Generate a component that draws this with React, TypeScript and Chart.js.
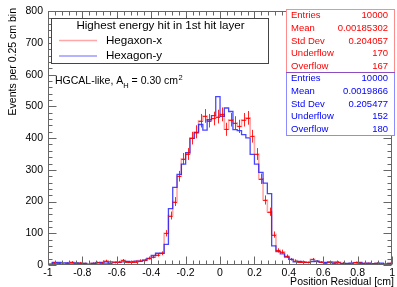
import React, { useEffect, useRef } from "react";
import { Chart, registerables } from "chart.js";
Chart.register(...registerables);

const FONT = "'Liberation Sans', Arial, Helvetica, sans-serif";

const binLow = -1;
const binWidth = 0.025;

// Hegaxon-x (red, with error bars)
const hexXCounts = [
  2, 7, 5, 3, 6, 9, 6, 7, 5, 4, 6, 8, 7, 13, 6, 8, 10, 15, 9, 10, 11, 14,
  16, 22, 26, 32, 37, 100, 156, 200, 280, 335, 350, 400, 420, 455, 470, 455, 462, 468,
  475, 428, 458, 448, 437, 458, 464, 406, 350, 272, 205, 168, 96, 46, 42, 28, 18,
  14, 10, 9, 8, 18, 12, 9, 7, 8, 6, 9, 7, 4, 5, 8, 6, 5, 5, 4, 6, 4, 3, 5,
];
// Hexagon-y (blue)
const hexYCounts = [
  3, 8, 8, 7, 7, 6, 7, 6, 5, 2, 5, 7, 8, 6, 10, 9, 8, 10, 11, 9, 12, 12,
  15, 20, 30, 37, 37, 65, 178, 245, 286, 318, 354, 399, 417, 443, 425, 458, 471, 531,
  469, 495, 484, 427, 424, 411, 401, 349, 318, 292, 258, 225, 60, 42, 35, 25, 18,
  10, 11, 9, 8, 11, 12, 9, 8, 10, 9, 7, 4, 5, 6, 7, 8, 5, 6, 4, 5, 6, 3, 5,
];

const xMin = -1;
const xMax = 1;
const xMajorStep = 0.2;
const xMinorStep = 0.04;
const yMin = 0;
const yMax = 800;
const yMajorStep = 100;
const yMinorStep = 20;

const xTitle = "Position Residual [cm]";
const yTitle = "Events per 0.25 cm bin";
const legendHeader = "Highest energy hit in 1st hit layer";
const seriesNames = ["Hegaxon-x", "Hexagon-y"];
const statsLabels = ["Entries", "Mean", "Std Dev", "Underflow", "Overflow"];
const statsHexX = ["10000", "0.00185302", "0.204057", "170", "167"];
const statsHexY = ["10000", "0.0019866", "0.205477", "152", "180"];

const RED_LIGHT = "rgba(255,0,0,0.35)";
const BLUE = "rgba(0,0,255,0.72)";
const BLUE_LIGHT = "rgba(0,0,255,0.4)";

function stepData(counts: number[]) {
  const pts = counts.map((c, i) => ({ x: binLow + i * binWidth, y: c }));
  pts.push({ x: binLow + counts.length * binWidth, y: counts[counts.length - 1] });
  return pts;
}

function fmt(v: number) {
  const r = Math.round(v * 10) / 10;
  return String(r === 0 ? 0 : r);
}

const errorBarsPlugin = {
  id: "errorBars",
  afterDatasetsDraw(chart: any) {
    const { ctx, chartArea } = chart;
    const xs = chart.scales.x;
    const ys = chart.scales.y;
    ctx.save();
    ctx.beginPath();
    ctx.rect(chartArea.left, chartArea.top, chartArea.right - chartArea.left, chartArea.bottom - chartArea.top);
    ctx.clip();
    ctx.strokeStyle = "rgba(255,0,0,0.85)";
    ctx.lineWidth = 1;
    hexXCounts.forEach((c, i) => {
      const lo = binLow + i * binWidth;
      const x0 = xs.getPixelForValue(lo);
      const x1 = xs.getPixelForValue(lo + binWidth);
      const xc = Math.round(xs.getPixelForValue(lo + binWidth / 2)) + 0.5;
      const y = Math.round(ys.getPixelForValue(c)) + 0.5;
      const e = Math.sqrt(c);
      ctx.beginPath();
      ctx.moveTo(x0, y);
      ctx.lineTo(x1, y);
      ctx.moveTo(xc, ys.getPixelForValue(c + e));
      ctx.lineTo(xc, ys.getPixelForValue(Math.max(0, c - e)));
      ctx.stroke();
    });
    ctx.restore();
  },
};

const decorPlugin = {
  id: "decor",
  afterDraw(chart: any) {
    const { ctx, chartArea } = chart;
    const xs = chart.scales.x;
    const ys = chart.scales.y;
    const L = Math.round(chartArea.left) + 0.5;
    const R = Math.round(chartArea.right) - 0.5;
    const T = Math.round(chartArea.top) + 0.5;
    const B = Math.round(chartArea.bottom) - 0.5;
    ctx.save();
    // frame
    ctx.strokeStyle = "#666";
    ctx.lineWidth = 1;
    ctx.strokeRect(L, T, R - L, B - T);
    // x ticks
    const nx = Math.round((xMax - xMin) / xMinorStep);
    for (let i = 0; i <= nx; i++) {
      const v = xMin + i * xMinorStep;
      const px = Math.round(xs.getPixelForValue(v)) + 0.5;
      const len = i % 5 === 0 ? 8 : 4;
      ctx.beginPath();
      ctx.moveTo(px, B);
      ctx.lineTo(px, B - len);
      ctx.moveTo(px, T);
      ctx.lineTo(px, T + len);
      ctx.stroke();
    }
    const ny = Math.round((yMax - yMin) / yMinorStep);
    for (let i = 0; i <= ny; i++) {
      const v = yMin + i * yMinorStep;
      const py = Math.round(ys.getPixelForValue(v)) + 0.5;
      const len = i % 5 === 0 ? 8 : 4;
      ctx.beginPath();
      ctx.moveTo(L, py);
      ctx.lineTo(L + len, py);
      ctx.moveTo(R, py);
      ctx.lineTo(R - len, py);
      ctx.stroke();
    }

    // axis titles
    ctx.fillStyle = "#000";
    ctx.font = `10.5px ${FONT}`;
    ctx.textAlign = "right";
    ctx.textBaseline = "middle";
    ctx.fillText(xTitle, 394, 282);
    ctx.save();
    ctx.translate(13, 8);
    ctx.rotate(-Math.PI / 2);
    ctx.fillText(yTitle, 0, 0);
    ctx.restore();

    // legend box
    ctx.fillStyle = "#fff";
    ctx.fillRect(51, 18, 217, 45);
    ctx.strokeStyle = "#444";
    ctx.strokeRect(51.5, 18.5, 217, 45);
    ctx.fillStyle = "#000";
    ctx.font = `11.6px ${FONT}`;
    ctx.textAlign = "center";
    ctx.fillText(legendHeader, 160.5, 25.5);
    ctx.textAlign = "left";
    const legendColors = [RED_LIGHT, BLUE_LIGHT];
    seriesNames.forEach((name, i) => {
      const y = 40.5 + i * 15.5;
      ctx.strokeStyle = legendColors[i];
      ctx.lineWidth = 1.5;
      ctx.beginPath();
      ctx.moveTo(59, y);
      ctx.lineTo(97, y);
      ctx.stroke();
      ctx.fillStyle = "#000";
      ctx.fillText(name, 106, y);
    });

    // annotation
    ctx.font = `10.5px ${FONT}`;
    ctx.textAlign = "left";
    let ax = 55;
    const ay = 81.5;
    const p1 = "HGCAL-like, A";
    ctx.fillText(p1, ax, ay);
    ax += ctx.measureText(p1).width;
    ctx.font = `7.5px ${FONT}`;
    ctx.fillText("H", ax, ay + 4);
    ax += ctx.measureText("H").width;
    ctx.font = `10.5px ${FONT}`;
    const p2 = " = 0.30 cm";
    ctx.fillText(p2, ax, ay);
    ax += ctx.measureText(p2).width;
    ctx.font = `7.5px ${FONT}`;
    ctx.fillText("2", ax + 0.5, ay - 4);

    // stats boxes
    const boxes = [
      { vals: statsHexX, color: "#ff0000", border: "rgba(255,0,0,0.45)", top: 9 },
      { vals: statsHexY, color: "#0000ff", border: "rgba(0,0,255,0.45)", top: 72 },
    ];
    boxes.forEach((b) => {
      ctx.fillStyle = "#fff";
      ctx.fillRect(286, b.top, 109, 64);
    });
    boxes.forEach((b) => {
      ctx.strokeStyle = b.border;
      ctx.lineWidth = 1;
      ctx.strokeRect(286.5, b.top + 0.5, 108, 63);
      ctx.fillStyle = b.color;
      ctx.font = `9.5px ${FONT}`;
      statsLabels.forEach((lab, i) => {
        const y = b.top + 6.5 + i * 12.7;
        ctx.textAlign = "left";
        ctx.fillText(lab, 291, y);
        ctx.textAlign = "right";
        ctx.fillText(b.vals[i], 388, y);
      });
    });
    ctx.restore();
  },
};

export default function App() {
  const ref = useRef<HTMLCanvasElement | null>(null);
  useEffect(() => {
    document.body.style.margin = "0";
    const canvas = ref.current;
    if (!canvas) return;
    const chart = new Chart(canvas, {
      type: "line",
      data: {
        datasets: [
          {
            label: seriesNames[1],
            data: stepData(hexYCounts),
            stepped: "before",
            borderColor: BLUE,
            borderWidth: 1.3,
            pointRadius: 0,
            fill: false,
            order: 0,
          } as any,
          {
            label: seriesNames[0],
            data: stepData(hexXCounts),
            stepped: "before",
            borderColor: RED_LIGHT,
            borderWidth: 1.6,
            pointRadius: 0,
            fill: false,
            order: 1,
          } as any,
        ],
      },
      options: {
        animation: false,
        responsive: false,
        maintainAspectRatio: false,
        devicePixelRatio: 1,
        layout: { padding: { left: 0, right: 3, top: 9, bottom: 0 } },
        plugins: { legend: { display: false }, tooltip: { enabled: false }, title: { display: false } },
        scales: {
          x: {
            type: "linear",
            min: xMin,
            max: xMax,
            grid: { display: false, drawTicks: false },
            border: { display: false },
            ticks: {
              stepSize: xMajorStep,
              padding: 2,
              color: "#000",
              maxRotation: 0,
              autoSkip: false,
              font: { family: FONT, size: 10.5 },
              callback: (v: any) => fmt(Number(v)),
            },
            afterFit: (s: any) => {
              s.height = 22;
            },
          },
          y: {
            type: "linear",
            min: yMin,
            max: yMax,
            grid: { display: false, drawTicks: false },
            border: { display: false },
            ticks: {
              stepSize: yMajorStep,
              padding: 5,
              color: "#000",
              font: { family: FONT, size: 10.5 },
            },
            afterFit: (s: any) => {
              s.width = 48;
            },
          },
        },
      },
      plugins: [errorBarsPlugin, decorPlugin],
    });
    return () => chart.destroy();
  }, []);
  return (
    <div style={{ position: "fixed", left: 0, top: 0, width: 397, height: 287, background: "#fff" }}>
      <canvas ref={ref} width={397} height={287} style={{ width: 397, height: 287, display: "block" }} />
    </div>
  );
}
